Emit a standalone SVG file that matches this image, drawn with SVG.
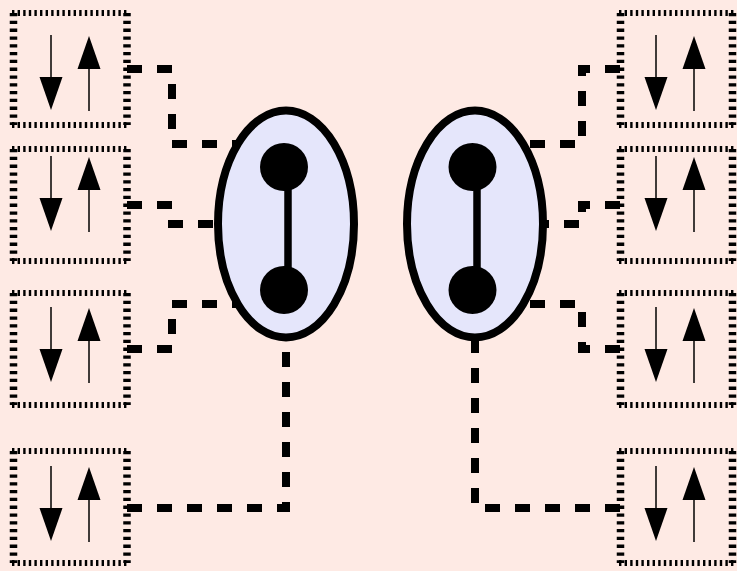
<svg xmlns="http://www.w3.org/2000/svg" width="737" height="571" viewBox="0 0 737 571">
<defs>
<style>
.hedge{fill:none;stroke:#000;stroke-width:6;stroke-dasharray:2.4 3.2}
.vedge{fill:none;stroke:#000;stroke-width:7.5;stroke-dasharray:3.3 4.5}
.conn{fill:none;stroke:#000;stroke-width:8;stroke-dasharray:15 15}
.shaft{stroke:#000;stroke-width:1.5}
.head{fill:#000}
.cell{fill:#E5E6FB;stroke:#000;stroke-width:8}
.dot{fill:#000}
.bond{stroke:#000;stroke-width:7.5}
</style>
<g id="spin">
<line class="shaft" x1="0" y1="0" x2="0" y2="44"/>
<polygon class="head" points="-11.5,42 11.5,42 0,75"/>
<line class="shaft" x1="38" y1="34" x2="38" y2="76"/>
<polygon class="head" points="26.5,34 49.5,34 38,1"/>
</g>
<g id="frame-l">
<path class="hedge" d="M12,0 H128 M12,112 H128"/>
<path class="vedge" d="M13.5,0 V112 M127,0 V112"/>
</g>
<g id="frame-r">
<path class="hedge" d="M619,0 H734 M619,112 H734"/>
<path class="vedge" d="M620.5,0 V112 M732.5,0 V112"/>
</g>
</defs>
<rect width="737" height="571" fill="#FEEAE4"/>
<g id="connectors">
<path class="conn" d="M127,69 H172 V144 H245"/>
<path class="conn" d="M127,205 H172 V224 H225"/>
<path class="conn" d="M127,349 H172 V304 H245"/>
<path class="conn" d="M127,508 H286 V336"/>
<path class="conn" d="M620,69 H582 V144 H515"/>
<path class="conn" d="M620,205 H582 V224 H535"/>
<path class="conn" d="M620,349 H582 V304 H515"/>
<path class="conn" d="M620,508 H475 V336"/>
</g>
<g id="box-l1"><use href="#frame-l" y="13"/><use href="#spin" x="51" y="35"/></g>
<g id="box-l2"><use href="#frame-l" y="149"/><use href="#spin" x="51" y="156"/></g>
<g id="box-l3"><use href="#frame-l" y="293"/><use href="#spin" x="51" y="307"/></g>
<g id="box-l4"><use href="#frame-l" y="451"/><use href="#spin" x="51" y="466"/></g>
<g id="box-r1"><use href="#frame-r" y="13"/><use href="#spin" x="656" y="35"/></g>
<g id="box-r2"><use href="#frame-r" y="149"/><use href="#spin" x="656" y="156"/></g>
<g id="box-r3"><use href="#frame-r" y="293"/><use href="#spin" x="656" y="307"/></g>
<g id="box-r4"><use href="#frame-r" y="451"/><use href="#spin" x="656" y="466"/></g>
<g id="dimer-left">
<ellipse class="cell" cx="286" cy="224" rx="68" ry="113.5"/>
<line class="bond" x1="288" y1="167" x2="288" y2="290"/>
<circle class="dot" cx="284" cy="167" r="24"/>
<circle class="dot" cx="284" cy="290" r="24"/>
</g>
<g id="dimer-right">
<ellipse class="cell" cx="475" cy="224" rx="68" ry="113.5"/>
<line class="bond" x1="477" y1="167" x2="477" y2="290"/>
<circle class="dot" cx="472.5" cy="167" r="24"/>
<circle class="dot" cx="472.5" cy="290" r="24"/>
</g>
</svg>
